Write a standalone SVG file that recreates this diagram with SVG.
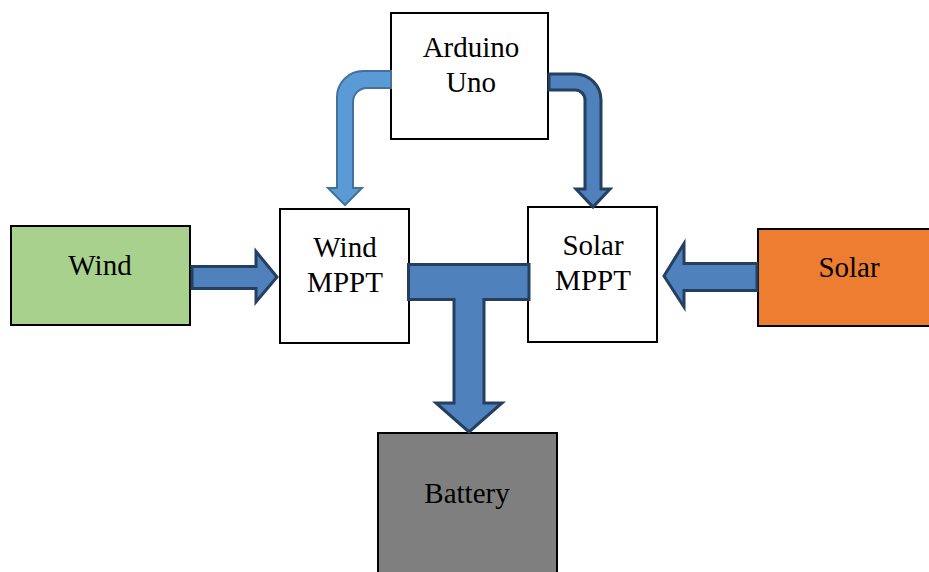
<svg xmlns="http://www.w3.org/2000/svg" width="929" height="572" viewBox="0 0 929 572">
<style>
.box{stroke:#000;stroke-width:2}
.t{font-family:"Liberation Serif","Times New Roman",serif;font-size:29px;fill:#000;text-anchor:middle}
.arr{fill:#4f81bd;stroke:#243f60;stroke-width:3;stroke-linejoin:miter}
.arrl{fill:#5b9bd5;stroke:#41719c;stroke-width:2}
</style>
<rect width="929" height="572" fill="#fff"/>
<g id="arduino"><rect class="box" x="391" y="13" width="157" height="126" fill="#fff"/><text class="t" x="471" y="57">Arduino</text><text class="t" x="471" y="92">Uno</text></g>
<g id="wind-mppt"><rect class="box" x="280" y="209" width="129" height="134" fill="#fff"/><text class="t" x="345" y="257">Wind</text><text class="t" x="345" y="292">MPPT</text></g>
<g id="solar-mppt"><rect class="box" x="528" y="207" width="129" height="135" fill="#fff"/><text class="t" x="593" y="255">Solar</text><text class="t" x="593" y="290">MPPT</text></g>
<g id="wind"><rect class="box" x="11" y="226" width="179" height="99" fill="#a9d18e"/><text class="t" x="100" y="275">Wind</text></g>
<g id="solar"><rect class="box" x="758" y="229" width="175" height="97" fill="#ed7d31"/><text class="t" x="849" y="277">Solar</text></g>
<g id="battery"><rect class="box" x="378" y="433" width="179" height="145" fill="#7f7f7f"/><text class="t" x="467" y="503">Battery</text></g>
<g id="connectors">
<path class="arrl" d="M391,71 L363,71 A26,26 0 0 0 337,97 L337,188 L328,188 L345,205 L362,188 L353,188 L353,102 A14,14 0 0 1 367,88 L391,88 Z"/>
<path class="arr" d="M549,74 L575,74 A26,26 0 0 1 601,100 L601,189 L610,189 L593,207 L576,189 L585,189 L585,100 A10,10 0 0 0 575,90 L549,90 Z"/>
<path class="arr" d="M192,266.5 L256,266.5 L256,251.5 L277,277 L256,302 L256,288.5 L192,288.5 Z"/>
<path class="arr" d="M757,263.5 L684,263.5 L684,243.5 L664,276 L684,307 L684,290.5 L757,290.5 Z"/>
<path class="arr" d="M408.5,264.5 L529,264.5 L529,299.5 L484,299.5 L484,403 L502,403 L469,432 L436,403 L454,403 L454,299.5 L408.5,299.5 Z"/>
</g>
</svg>
